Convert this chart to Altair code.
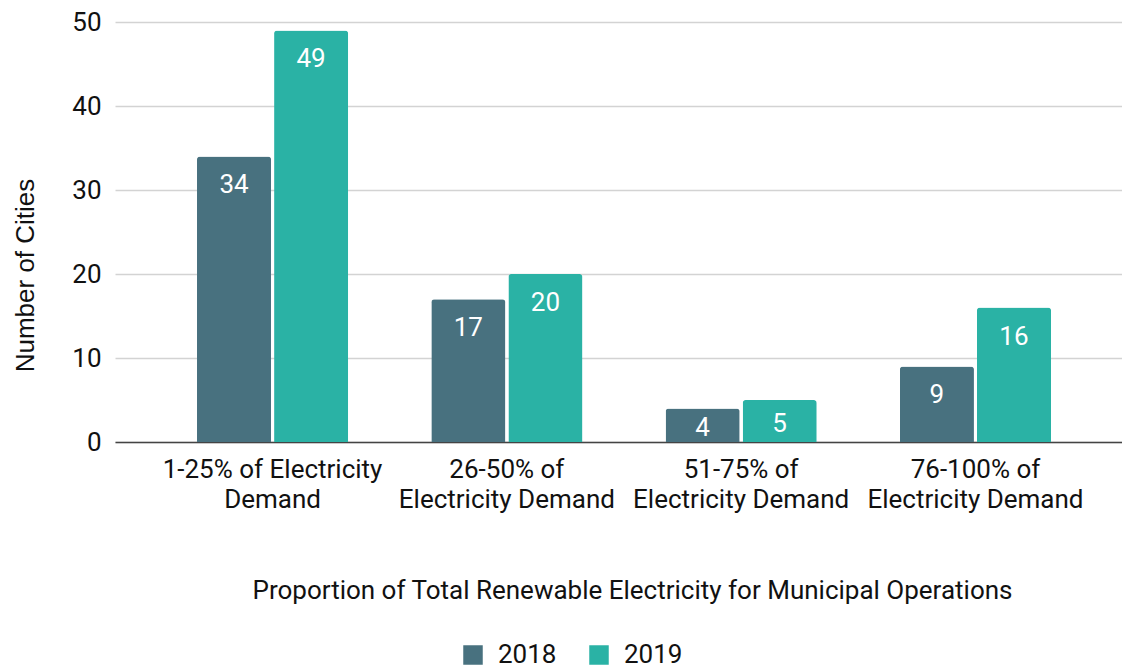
import altair as alt
import pandas as pd

# Categories (line breaks marked with "|"), series and counts
categories = [
    "1-25% of Electricity|Demand",
    "26-50% of|Electricity Demand",
    "51-75% of|Electricity Demand",
    "76-100% of|Electricity Demand",
]
years = ["2018", "2019"]
cities_2018 = [34, 17, 4, 9]
cities_2019 = [49, 20, 5, 16]

colors = ["#48717f", "#2ab2a5"]

rows = []
for cat, a, b in zip(categories, cities_2018, cities_2019):
    rows.append({"category": cat, "year": years[0], "cities": a})
    rows.append({"category": cat, "year": years[1], "cities": b})
df = pd.DataFrame(rows)

FONT = "Roboto"
FS = 26

x_enc = alt.X(
    "category:N",
    sort=categories,
    scale=alt.Scale(paddingInner=0.355, paddingOuter=0.3265, align=0.536),
    axis=alt.Axis(
        title="Proportion of Total Renewable Electricity for Municipal Operations",
        labelExpr="split(datum.label, '|')",
        labelAngle=0,
        labelLimit=0,
        labelFont=FONT,
        labelFontSize=FS,
        labelColor="#111111",
        labelLineHeight=30,
        labelBaseline="top",
        labelPadding=14,
        ticks=False,
        domainColor="#444444",
        domainWidth=1.5,
        titleFont=FONT,
        titleFontSize=FS,
        titleFontWeight="normal",
        titleColor="#111111",
        titleX=517,
        titleY=148,
        titleBaseline="middle",
        titleAlign="center",
        titleLimit=0,
    ),
)
xoff_enc = alt.XOffset(
    "year:N", sort=years, scale=alt.Scale(paddingInner=0.039, paddingOuter=0)
)

y_scale = alt.Scale(domain=[0, 50], nice=False)

bars = alt.Chart(df).mark_bar(
    cornerRadiusTopLeft=3, cornerRadiusTopRight=3
).encode(
    x=x_enc,
    xOffset=xoff_enc,
    y=alt.Y(
        "cities:Q",
        scale=y_scale,
        axis=alt.Axis(
            title="Number of Cities",
            values=[0, 10, 20, 30, 40, 50],
            labelFont=FONT,
            labelFontSize=FS,
            labelColor="#111111",
            labelPadding=14,
            ticks=False,
            domain=False,
            grid=True,
            gridColor="#d3d3d3",
            gridWidth=1.5,
            titleFont="Liberation Sans",
            titleFontSize=FS,
            titleFontWeight="normal",
            titleColor="#111111",
            titleAngle=270,
            titleX=-90,
            titleY=253,
            titleAlign="center",
            titleBaseline="middle",
        ),
    ),
    color=alt.Color(
        "year:N",
        sort=years,
        scale=alt.Scale(domain=years, range=colors),
        legend=alt.Legend(
            title=None,
            orient="none",
            legendX=345,
            legendY=620,
            direction="horizontal",
            symbolType="square",
            symbolSize=380,
            symbolStrokeWidth=0,
            symbolOpacity=1,
            labelFont=FONT,
            labelFontSize=FS,
            labelColor="#111111",
            labelOffset=12,
            columnPadding=29,
        ),
    ),
)

# Value labels: near the top of tall bars, centred in short ones
labels = alt.Chart(df).transform_calculate(
    label_y="max(datum.cities - 3.1, datum.cities / 2)"
).mark_text(
    font=FONT, fontSize=FS, color="white", baseline="middle", align="center", dy=3
).encode(
    x=alt.X("category:N", sort=categories),
    xOffset=alt.XOffset("year:N", sort=years),
    y=alt.Y("label_y:Q", scale=y_scale),
    text=alt.Text("cities:Q"),
)

chart = (
    alt.layer(bars, labels)
    .properties(
        width=1007,
        height=420,
        autosize=alt.AutoSizeParams(type="none"),
        padding={"left": 115, "top": 22, "right": 0, "bottom": 225},
        background="white",
    )
    .configure_view(stroke=None)
)

chart.save("out.html", embed_options={"renderer": "svg", "actions": False})
